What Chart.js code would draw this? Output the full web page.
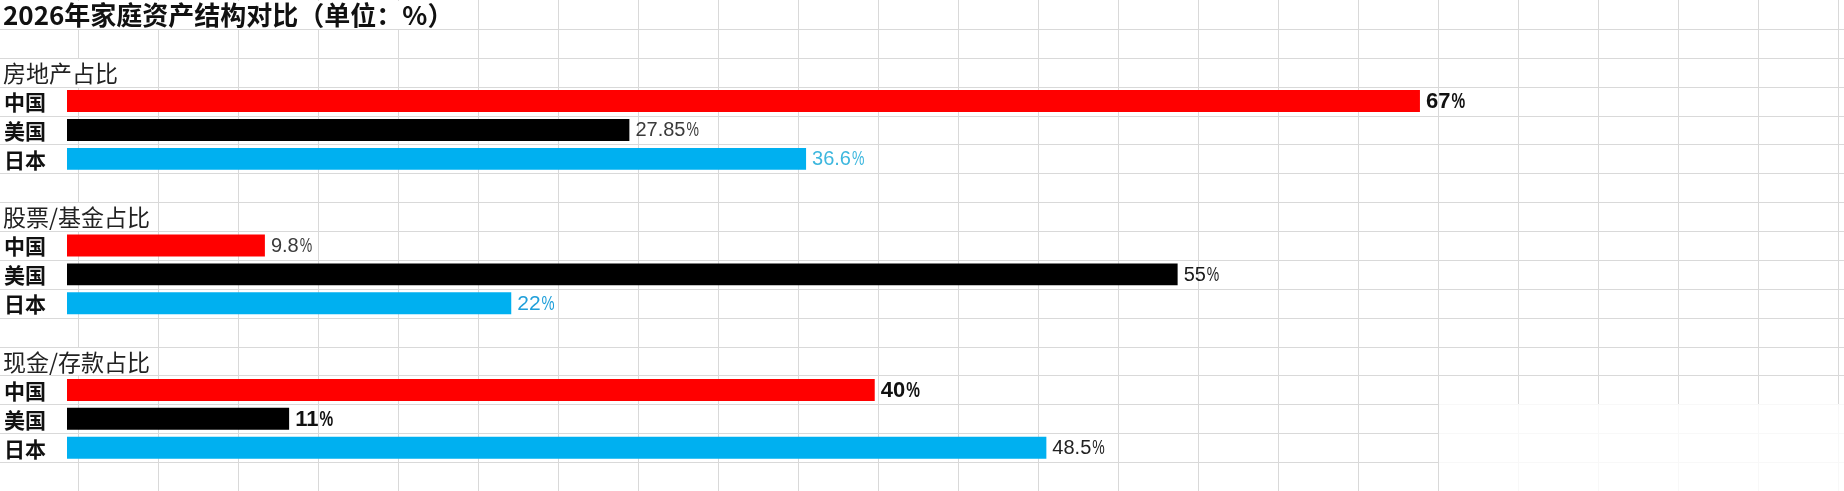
<!DOCTYPE html>
<html><head><meta charset="utf-8">
<script src="https://cdn.jsdelivr.net/npm/chart.js@4"></script>
<style>html,body{margin:0;padding:0;background:#fff;overflow:hidden}canvas{display:block}</style>
</head><body>
<canvas id="c" width="1844" height="491"></canvas>
<script>
// ---- data ----
const chartTitle = '2026年家庭资产结构对比（单位：%）';
const groups = ['房地产占比', '股票/基金占比', '现金/存款占比'];
const countries = ['中国', '美国', '日本'];
const chinaValues = [67, 9.8, 40];
const usaValues = [27.85, 55, 11];
const japanValues = [36.6, 22, 48.5];

// ---- styles ----
const countryColors = ['#ff0000', '#000000', '#00b0f0'];
const labelStyles = [ // [group][country]
  [{w:'bold', s:22, c:'#111'}, {w:'normal', s:20, c:'#3a3a3a'}, {w:'normal', s:20, c:'#3db7de'}],
  [{w:'normal', s:20, c:'#3a3a3a'}, {w:'normal', s:20, c:'#1a1a1a'}, {w:'normal', s:21, c:'#1f9fda'}],
  [{w:'bold', s:22, c:'#111'}, {w:'bold', s:22, c:'#111'}, {w:'normal', s:20, c:'#222'}]
];
const cjk = '"Noto Sans CJK SC", "Noto Sans", sans-serif';
const latin = '"Liberation Sans", Arial, sans-serif';
const titleFont = `bold 26px ${cjk}`;
const groupFont = `23px ${cjk}`;

const seriesValues = [chinaValues, usaValues, japanValues];
const rows = [];
rows.push({type:'title', label: chartTitle});
rows.push({type:'blank', label:''});
groups.forEach((g, gi) => {
  rows.push({type:'group', label:g});
  countries.forEach((c, ci) => rows.push({type:'bar', label:c, value:seriesValues[ci][gi], color:countryColors[ci], g:gi, k:ci}));
  rows.push({type:'blank', label:''});
});

const sheetPlugin = {
  id:'sheet',
  beforeDatasetsDraw(chart){
    const ctx = chart.ctx, y = chart.scales.y, W = chart.width, H = chart.height;
    const half = (y.getPixelForValue(1) - y.getPixelForValue(0)) / 2;
    ctx.save();
    ctx.strokeStyle = '#d9d9d9'; ctx.lineWidth = 1;
    ctx.beginPath();
    for (let i = 1; i < rows.length; i++) {
      const py = Math.round(y.getPixelForValue(i) - half) + 0.5;
      ctx.moveTo(0, py); ctx.lineTo(W, py);
    }
    for (let px = 78; px < W; px += 80) {
      ctx.moveTo(px + 0.5, 0); ctx.lineTo(px + 0.5, H);
    }
    ctx.stroke();
    // overflow text hides cell borders
    ctx.fillStyle = '#fff';
    rows.forEach((r, i) => {
      if (r.type === 'title' || r.type === 'group') {
        ctx.font = r.type === 'title' ? titleFont : groupFont;
        const tw = ctx.measureText(r.label).width;
        const top = Math.round(y.getPixelForValue(i) - half) + 1;
        const bot = Math.round(y.getPixelForValue(i) + half);
        ctx.fillRect(0, top, tw + 8, bot - top);
      }
    });
    // faded bottom-right region
    ctx.fillStyle = 'rgba(255,255,255,0.8)';
    ctx.fillRect(1439, 404, W - 1439, H - 404);
    ctx.restore();
  },
  afterDatasetsDraw(chart){
    const ctx = chart.ctx, y = chart.scales.y;
    const meta = chart.getDatasetMeta(0);
    ctx.save();
    ctx.textBaseline = 'middle';
    ctx.textAlign = 'left';
    rows.forEach((r, i) => {
      const cy = y.getPixelForValue(i);
      if (r.type === 'title') {
        ctx.font = titleFont; ctx.fillStyle = '#111';
        ctx.fillText(r.label, 3, cy + 1);
      } else if (r.type === 'group') {
        ctx.font = groupFont; ctx.fillStyle = '#222';
        ctx.fillText(r.label, 3, cy + 1);
      } else if (r.type === 'bar') {
        ctx.font = `bold 21px ${cjk}`; ctx.fillStyle = '#111';
        ctx.fillText(r.label, 4, cy + 1);
        const el = meta.data[i];
        const st = labelStyles[r.g][r.k];
        ctx.font = `${st.w} ${st.s}px ${latin}`; ctx.fillStyle = st.c;
        const num = String(r.value);
        const x0 = el.x + 6;
        ctx.fillText(num, x0, el.y + 1);
        const nw = ctx.measureText(num).width;
        ctx.save();
        ctx.translate(x0 + nw + 1, el.y + 1);
        ctx.scale(0.7, 1);
        ctx.fillText('%', 0, 0);
        ctx.restore();
      }
    });
    ctx.restore();
  }
};

new Chart(document.getElementById('c'), {
  type:'bar',
  data:{
    labels: rows.map(r => r.label),
    datasets:[{
      data: rows.map(r => r.type === 'bar' ? r.value : null),
      backgroundColor: rows.map(r => r.color || 'transparent'),
      borderWidth: 0,
      barPercentage: 0.76,
      categoryPercentage: 1
    }]
  },
  options:{
    indexAxis:'y',
    responsive:false,
    animation:false,
    devicePixelRatio:1,
    layout:{padding:{left:67, right:0, top:0, bottom:0}},
    plugins:{legend:{display:false}, tooltip:{enabled:false}, title:{display:false}},
    scales:{
      x:{display:false, min:0, max:88},
      y:{display:false}
    }
  },
  plugins:[sheetPlugin]
});
</script>
</body></html>
